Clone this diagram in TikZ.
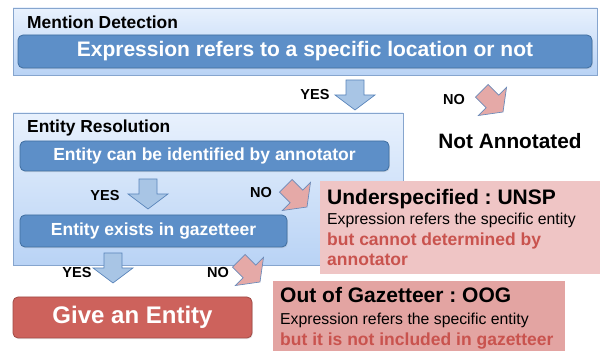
\documentclass[tikz,border=0pt]{standalone}
\usepackage{fontspec}
\setmainfont{Liberation Sans}
\usetikzlibrary{shadows}
\definecolor{outertop}{HTML}{E8F1FD}
\definecolor{outerbot}{HTML}{B9D3F5}
\definecolor{outerborder}{HTML}{86A5CE}
\definecolor{innerfill}{HTML}{5D8FC8}
\definecolor{innerborder}{HTML}{3F6EA0}
\definecolor{darrfill}{HTML}{A8C5E5}
\definecolor{darrborder}{HTML}{5B86BB}
\definecolor{parrfill}{HTML}{E5A9A7}
\definecolor{parrborder}{HTML}{6B8AB8}
\definecolor{givefill}{HTML}{CD625C}
\definecolor{giveborder}{HTML}{A04A45}
\definecolor{unspfill}{HTML}{EFC5C5}
\definecolor{oogfill}{HTML}{E3A4A2}
\definecolor{redtext}{HTML}{C9534E}
\newcommand\myfs[1]{\fontsize{#1}{#1}\selectfont}
\frenchspacing
\begin{document}
\begin{tikzpicture}[x=1pt,y=-1pt,
  outerbox/.style={draw=outerborder, top color=outertop, bottom color=outerbot, line width=0.8pt,
    drop shadow={shadow xshift=1pt,shadow yshift=-1.5pt,opacity=0.25}, inner sep=0pt},
  innerbox/.style={draw=innerborder, fill=innerfill, rounded corners=5pt, line width=0.8pt,
    text=white, inner sep=0pt, drop shadow={shadow xshift=0.8pt,shadow yshift=-1.2pt,opacity=0.2}},
  blockarrow/.pic={\draw[pic actions, line join=miter] (0,0) -- (-20,-15) -- (-9,-15) -- (-9,-30) -- (9,-30) -- (9,-15) -- (20,-15) -- cycle;},
  downarr/.style={draw=darrborder, fill=darrfill, line width=0.7pt},
  diagarr/.style={draw=parrborder, fill=parrfill, line width=0.7pt, rotate=45},
  lbl/.style={font=\bfseries\myfs{14.5}, inner sep=0pt},
  head/.style={font=\bfseries\myfs{17.4}, inner sep=0pt, anchor=west},
  boxtext/.style={inner sep=0pt, anchor=base west},
]
\useasboundingbox (0,0) rectangle (600,352);

% Mention detection
\node[outerbox, minimum width=584pt, minimum height=67pt] (md) at (305,41.5) {};
\node[head] (mdh) at (27,22) {Mention Detection};
\node[innerbox, minimum width=574pt, minimum height=33pt, font=\bfseries\myfs{21}] (expr) at (305,51.5) {Expression refers to a specific location or not};

\pic[downarr] (ya1) at (355,110) {blockarrow};
\node[lbl] (yes1) at (315,95) {YES};
\pic[diagarr] (na1) at (503,112) {blockarrow};
\node[lbl] (no1) at (454,100) {NO};
\node[font=\bfseries\myfs{20.8}, inner sep=0pt] (nota) at (510,141) {Not Annotated};

% Entity resolution
\node[outerbox, minimum width=390pt, minimum height=152pt] (er) at (208,189) {};
\node[head] (erh) at (27,128) {Entity Resolution};
\node[innerbox, minimum width=369pt, minimum height=30pt, font=\bfseries\myfs{17.5}] (ident) at (204.5,156) {Entity can be identified by annotator};
\pic[downarr] (ya2) at (148,209) {blockarrow};
\node[lbl] (yes2) at (105,196) {YES};
\pic[diagarr] (na2) at (307,207) {blockarrow};
\node[lbl] (no2) at (261,193) {NO};
\node[innerbox, minimum width=267pt, minimum height=32pt, font=\bfseries\myfs{17.5}] (gaz) at (153.5,231) {Entity exists in gazetteer};

\pic[downarr] (ya3) at (113,283) {blockarrow};
\node[lbl] (yes3) at (77,273) {YES};
\pic[diagarr] (na3) at (260,282) {blockarrow};
\node[lbl] (no3) at (218,273) {NO};

\node[draw=giveborder, fill=givefill, rounded corners=5pt, line width=0.8pt, text=white,
  font=\bfseries\myfs{24}, minimum width=239pt, minimum height=41pt, inner sep=0pt,
  drop shadow={shadow xshift=0.8pt,shadow yshift=-1.2pt,opacity=0.2}] (give) at (132.5,317.5) {Give an Entity};

% UNSP
\node[fill=unspfill, minimum width=280pt, minimum height=93pt, inner sep=0pt] (unsp) at (460,227.5) {};
\node[boxtext, font=\bfseries\myfs{21}] (unsp1) at (327,205) {Underspecified : UNSP};
\node[boxtext, font=\myfs{15.8}] (unsp2) at (327,225) {Expression refers the specific entity};
\node[boxtext, font=\bfseries\myfs{17.5}, text=redtext] (unsp3) at (327,246) {but cannot determined by};
\node[boxtext, font=\bfseries\myfs{17.5}, text=redtext] (unsp4) at (327,266) {annotator};

% OOG
\node[fill=oogfill, minimum width=292pt, minimum height=70pt, inner sep=0pt] (oog) at (419,316) {};
\node[boxtext, font=\bfseries\myfs{21}] (oog1) at (280,303) {Out of Gazetteer : OOG};
\node[boxtext, font=\myfs{15.8}] (oog2) at (280,325) {Expression refers the specific entity};
\node[boxtext, font=\bfseries\myfs{17.5}, text=redtext] (oog3) at (280,346) {but it is not included in gazetteer};
\end{tikzpicture}
\end{document}
